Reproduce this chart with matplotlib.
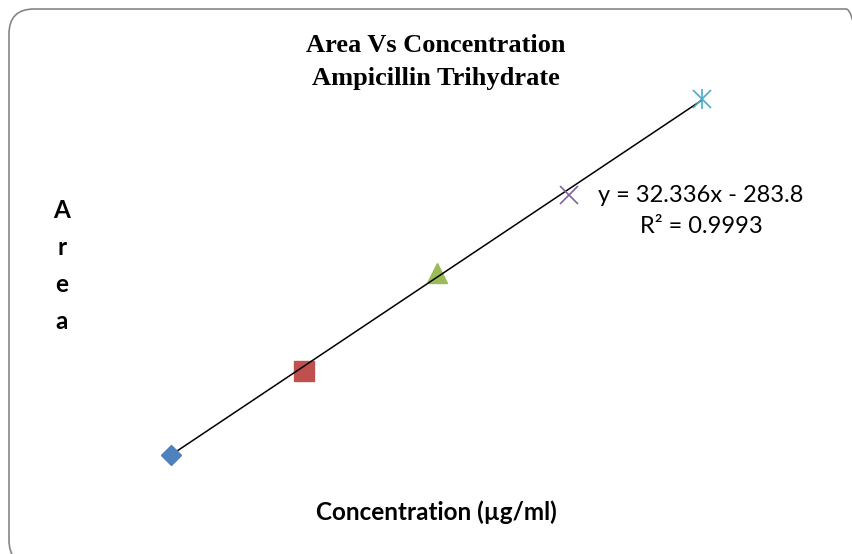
import numpy as np
import matplotlib.pyplot as plt
from matplotlib.patches import FancyBboxPatch
from matplotlib.transforms import IdentityTransform

# calibration data (concentration in ug/ml vs peak area)
conc = [20, 30, 40, 50, 60]
area = [363, 668, 1025, 1310, 1660]
slope = 32.336
intercept = -283.8
r2 = 0.9993

colors = ['#4F81BD', '#C0504D', '#9BBB59', '#8064A2', '#4BACC6']

W, H = 852, 554
fig = plt.figure(figsize=(W / 100, H / 100), dpi=100)

# axes placed so the hidden scale lines up with the original
ax = fig.add_axes([38.25 / W, (H - 527.2) / H, (835 - 38.25) / W, (527.2 - 60.5) / H])
ax.set_xlim(10, 70)
ax.set_ylim(100, 1800)
ax.axis('off')

# trendline
xs = np.array([min(conc), max(conc)])
ax.plot(xs, slope * xs + intercept, color='black', lw=1.1, zorder=2)

# points
ax.plot(conc[0], area[0], marker='D', ms=10, color=colors[0], ls='none', zorder=3)
ax.plot(conc[1], area[1], marker='s', ms=14.5, color=colors[1], ls='none', zorder=1)
ax.plot(conc[2], area[2], marker='^', ms=14.5, color=colors[2], ls='none', zorder=1)
ax.plot(conc[3], area[3], marker='x', ms=13.5, mew=1.2, color=colors[3], ls='none', zorder=3)
ax.plot(conc[4], area[4], marker='x', ms=13.5, mew=1.2, color=colors[4], ls='none', zorder=3)
ax.plot(conc[4], area[4], marker='|', ms=15, mew=1.2, color=colors[4], ls='none', zorder=3)

# equation
fig.text(701 / W, 1 - 211 / H, f'y = {slope}x - {abs(intercept)}\nR² = {r2}',
         ha='center', va='center', fontsize=17, family='Lato', linespacing=1.58)

# titles
fig.text(436 / W, 1 - 62 / H, 'Area Vs Concentration\nAmpicillin Trihydrate',
         ha='center', va='center', fontsize=19, fontweight='bold',
         family='Liberation Serif', linespacing=1.5)
fig.text(436 / W, 1 - 512 / H, 'Concentration (µg/ml)', ha='center', va='center',
         fontsize=17.5, fontweight='bold', family='Lato')
fig.text(62 / W, 1 - 266 / H, 'A\nr\ne\na', ha='center', va='center',
         fontsize=17.5, fontweight='bold', family='Lato', linespacing=1.72)

# rounded chart border (display coords, origin bottom-left)
border = FancyBboxPatch((9, -11), 862, 556, boxstyle='round,pad=0,rounding_size=25',
                        transform=IdentityTransform(), fill=False,
                        edgecolor='#868686', lw=1.2)
fig.patches.append(border)

fig.savefig('out.png', dpi=100)
